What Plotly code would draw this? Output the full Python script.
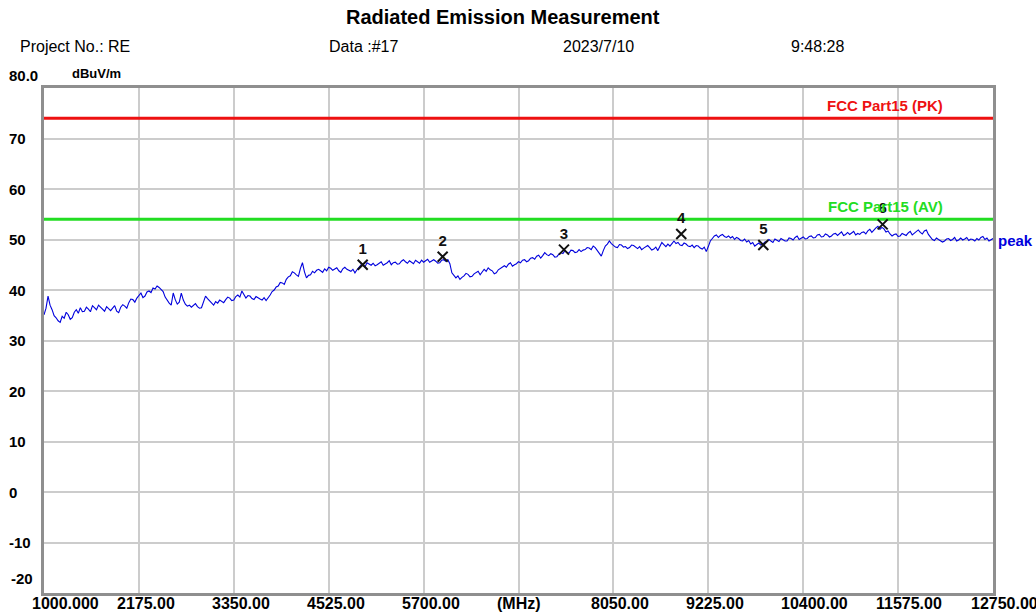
import plotly.graph_objects as go

# ---------------- data ----------------
FREQ_MHZ = list(range(1000, 12751, 25))
PEAK_DBUV = [
    35.1, 36.4, 38.8, 37.0, 36.1, 34.9, 34.5, 33.9, 33.6, 34.8, 34.4, 35.6, 35.1, 34.2, 34.5, 35.6, 36.1, 35.4, 36.5, 35.7,
    35.8, 36.6, 36.2, 35.7, 36.9, 36.4, 36.1, 37.0, 36.6, 36.0, 35.8, 36.7, 36.3, 35.9, 36.4, 36.9, 35.8, 35.5, 36.6, 37.1,
    36.8, 36.4, 37.5, 38.2, 38.1, 37.6, 38.4, 39.0, 39.4, 38.5, 38.8, 39.6, 39.8, 39.5, 40.4, 40.2, 40.8, 40.5, 40.1, 39.7,
    38.6, 37.9, 37.4, 37.0, 39.4, 38.1, 37.2, 37.6, 39.4, 38.0, 37.2, 36.8, 37.0, 36.6, 36.9, 37.3, 36.7, 36.4, 36.5, 37.8,
    38.8, 38.3, 37.8, 37.3, 37.0, 37.7, 37.4, 38.0, 37.8, 37.5, 38.1, 38.6, 38.4, 37.9, 38.0, 38.7, 39.0, 38.6, 39.8, 39.1,
    38.4, 38.9, 38.8, 38.3, 38.1, 38.7, 38.4, 38.2, 38.0, 38.5, 37.9, 38.4, 39.0, 39.7, 40.0, 40.6, 40.8, 41.5, 41.4, 41.1,
    42.1, 42.6, 42.8, 43.6, 43.4, 43.0, 42.7, 44.3, 45.4, 43.6, 42.4, 42.9, 43.0, 43.7, 43.4, 43.9, 44.1, 43.8, 43.5, 44.2,
    43.8, 44.5, 44.3, 43.9, 44.1, 44.4, 43.8, 43.5, 44.2, 44.5, 44.1, 43.9, 43.7, 44.1, 43.4, 44.0, 44.4, 45.0, 44.9, 44.6,
    45.4, 45.1, 44.9, 45.3, 44.8, 45.0, 45.3, 45.6, 44.9, 45.1, 45.4, 45.8, 45.0, 45.4, 45.5, 45.1, 45.2, 45.7, 46.0, 45.6,
    45.3, 45.8, 45.5, 45.2, 45.9, 45.6, 45.3, 45.9, 45.5, 45.8, 46.1, 45.5, 45.7, 46.0, 45.7, 45.3, 45.4, 45.9, 46.0, 45.7,
    46.0, 45.2, 43.4, 42.9, 42.4, 42.8, 42.1, 42.5, 42.8, 43.3, 43.1, 42.6, 42.7, 43.2, 43.4, 43.7, 43.0, 43.6, 44.1, 43.7,
    44.4, 44.0, 43.8, 43.2, 43.4, 44.0, 44.3, 44.6, 44.8, 44.5, 45.1, 45.4, 44.7, 45.0, 45.2, 45.6, 45.4, 45.9, 46.0, 45.6,
    45.8, 46.3, 46.4, 46.1, 46.7, 46.9, 46.3, 46.8, 47.4, 47.0, 46.8, 47.2, 47.0, 46.5, 46.6, 47.1, 47.4, 47.2, 47.8, 47.5,
    47.3, 47.9, 47.8, 47.4, 47.5, 48.0, 47.6, 47.9, 48.0, 48.4, 48.3, 48.0, 48.7, 48.4, 47.9, 47.2, 46.7, 47.8, 48.7, 49.1,
    49.7, 49.2, 48.9, 48.5, 48.4, 49.0, 48.9, 48.5, 48.6, 48.2, 48.4, 48.9, 48.8, 48.4, 48.2, 48.6, 48.0, 48.3, 48.5, 48.8,
    48.4, 47.9, 48.1, 48.5, 47.8, 48.6, 49.4, 49.0, 48.6, 49.1, 48.7, 49.2, 49.7, 49.2, 49.4, 48.9, 48.8, 49.3, 49.1, 48.7,
    48.6, 48.9, 48.4, 48.8, 48.7, 48.3, 48.1, 48.5, 47.6, 48.6, 49.7, 50.2, 50.7, 50.9, 50.4, 50.8, 51.0, 50.6, 50.4, 50.7,
    50.3, 50.6, 50.0, 50.4, 50.2, 49.8, 49.7, 50.1, 49.5, 49.8, 49.1, 49.4, 48.7, 49.0, 49.3, 48.9, 49.1, 49.5, 49.6, 50.0,
    49.7, 49.4, 50.1, 49.8, 49.6, 50.2, 50.0, 49.7, 49.7, 50.3, 50.2, 49.9, 50.4, 50.7, 50.0, 50.3, 50.5, 50.1, 50.2, 50.6,
    50.7, 50.3, 50.4, 50.9, 51.0, 50.5, 50.6, 51.1, 50.9, 50.5, 50.7, 51.1, 51.2, 50.8, 51.1, 51.5, 50.8, 51.0, 51.4, 51.0,
    51.3, 51.6, 50.9, 51.2, 51.0, 51.4, 51.5, 51.1, 51.7, 52.0, 51.4, 51.9, 52.3, 52.6, 52.0, 52.4, 52.1, 51.5, 51.7, 51.1,
    50.7, 51.0, 51.1, 50.6, 50.7, 51.2, 51.0, 50.8, 51.3, 51.6, 50.9, 51.2, 51.6, 51.9, 51.4, 51.1, 51.7, 51.9, 51.0, 50.5,
    50.0, 49.8, 50.3, 50.0, 49.8, 49.5, 49.7, 50.1, 50.2, 49.8, 50.0, 50.4, 49.7, 49.9, 50.3, 49.9, 50.1, 50.4, 49.8, 50.1,
    50.0, 49.7, 50.2, 49.9, 50.4, 50.6, 50.0, 50.3, 49.7, 49.9, 50.2,
]

MARKER_NO = ["1", "2", "3", "4", "5", "6"]
MARKER_FREQ = [4946, 5936, 7438, 8890, 9906, 11384]
MARKER_LEVEL = [45.0, 46.6, 48.0, 51.1, 48.9, 53.0]

LIMIT_PK = 74.0
LIMIT_AV = 54.0
LIMIT_PK_NAME = "FCC Part15 (PK)"
LIMIT_AV_NAME = "FCC Part15 (AV)"

X_GRID = [1000, 2175, 3350, 4525, 5700, 6875, 8050, 9225, 10400, 11575, 12750]
X_TICK_TEXT = ["1000.000", "2175.00", "3350.00", "4525.00", "5700.00", "(MHz)",
               "8050.00", "9225.00", "10400.00", "11575.00", "12750.00"]
Y_TICKS = [70, 60, 50, 40, 30, 20, 10, 0, -10]
Y_TICK_TEXT = ["70", "60", "50", "40", "30", "20", "10", "0", "-10"]

TITLE = "Radiated Emission Measurement"
HEADER = [("Project No.: RE", 18), ("Data :#17", 327), ("2023/7/10", 561), ("9:48:28", 789)]

# ---------------- figure ----------------
W, H = 1036, 614
ML, MR, MT, MB = 44, 43, 88, 21
PW, PH = W - ML - MR, H - MT - MB
FONT = "Arial, Liberation Sans, Helvetica, sans-serif"


def px(xp):
    return (xp - ML) / PW


def py(yp):
    return 1 - (yp - MT) / PH


fig = go.Figure()

# limit lines
fig.add_trace(go.Scatter(x=[X_GRID[0], X_GRID[-1]], y=[LIMIT_PK, LIMIT_PK], mode="lines",
                         line=dict(color="#ee1111", width=3), hoverinfo="skip"))
fig.add_trace(go.Scatter(x=[X_GRID[0], X_GRID[-1]], y=[LIMIT_AV, LIMIT_AV], mode="lines",
                         line=dict(color="#22dd22", width=3), hoverinfo="skip"))
# measured trace
fig.add_trace(go.Scatter(x=FREQ_MHZ, y=PEAK_DBUV, mode="lines",
                         line=dict(color="#0000dd", width=1.1)))
# markers
fig.add_trace(go.Scatter(x=MARKER_FREQ, y=MARKER_LEVEL, mode="markers+text",
                         marker=dict(symbol="x-thin", size=10, line=dict(color="#111111", width=2)),
                         text=["<b>" + t + "</b>" for t in MARKER_NO], textposition="top center",
                         textfont=dict(family=FONT, size=15, color="#111111")))

fig.update_layout(
    width=W, height=H, showlegend=False,
    margin=dict(l=ML, r=MR, t=MT, b=MB),
    paper_bgcolor="white", plot_bgcolor="white",
    xaxis=dict(range=[X_GRID[0], X_GRID[-1]], tickvals=X_GRID, showticklabels=False,
               showgrid=True, gridcolor="#cccccc", gridwidth=1.5, zeroline=False,
               showline=True, mirror=True, linecolor="#8f8f8f", linewidth=2.5, ticks=""),
    yaxis=dict(range=[-20, 80], dtick=10, showticklabels=False,
               showgrid=True, gridcolor="#cccccc", gridwidth=1.5, zeroline=False,
               showline=True, mirror=True, linecolor="#8f8f8f", linewidth=2.5, ticks=""),
)

ann = []
ann.append(dict(text="<b>" + TITLE + "</b>", x=px(503), y=py(17), xref="paper", yref="paper",
                xanchor="center", yanchor="middle", showarrow=False,
                font=dict(family=FONT, size=20, color="black")))
for txt, xl in HEADER:
    ann.append(dict(text=txt, x=px(xl), y=py(47), xref="paper", yref="paper",
                    xanchor="left", yanchor="middle", showarrow=False,
                    font=dict(family=FONT, size=16, color="black")))
ann.append(dict(text="<b>80.0</b>", x=px(7), y=py(76), xref="paper", yref="paper",
                xanchor="left", yanchor="middle", showarrow=False,
                font=dict(family=FONT, size=15, color="black")))
ann.append(dict(text="<b>dBuV/m</b>", x=px(70), y=py(74), xref="paper", yref="paper",
                xanchor="left", yanchor="middle", showarrow=False,
                font=dict(family=FONT, size=13, color="black")))
for v, t in zip(Y_TICKS, Y_TICK_TEXT):
    ann.append(dict(text="<b>" + t + "</b>", x=px(7), y=v, xref="paper", yref="y",
                    xanchor="left", yanchor="middle", showarrow=False,
                    font=dict(family=FONT, size=15, color="black")))
ann.append(dict(text="<b>-20</b>", x=px(9), y=py(578), xref="paper", yref="paper",
                xanchor="left", yanchor="middle", showarrow=False,
                font=dict(family=FONT, size=15, color="black")))
for i, (xv, t) in enumerate(zip(X_GRID, X_TICK_TEXT)):
    ann.append(dict(text="<b>" + t + "</b>", x=xv, y=py(603), xref="x", yref="paper",
                    xanchor="left", yanchor="middle", showarrow=False,
                    xshift=(-14 if i == 0 else -24),
                    font=dict(family=FONT, size=16, color="black")))
ann.append(dict(text="<b>" + LIMIT_PK_NAME + "</b>", x=px(945), y=LIMIT_PK, xref="paper", yref="y",
                xanchor="right", yanchor="bottom", yshift=2, showarrow=False,
                font=dict(family=FONT, size=15, color="#ee1111")))
ann.append(dict(text="<b>" + LIMIT_AV_NAME + "</b>", x=px(945), y=LIMIT_AV, xref="paper", yref="y",
                xanchor="right", yanchor="bottom", yshift=2, showarrow=False,
                font=dict(family=FONT, size=15, color="#22dd22")))
ann.append(dict(text="<b>peak</b>", x=px(996), y=py(240), xref="paper", yref="paper",
                xanchor="left", yanchor="middle", showarrow=False,
                font=dict(family=FONT, size=15, color="#0000dd")))
fig.update_layout(annotations=ann)

fig.write_html("out.html", config={"displayModeBar": False},
               post_script="document.body.style.margin='0';")
